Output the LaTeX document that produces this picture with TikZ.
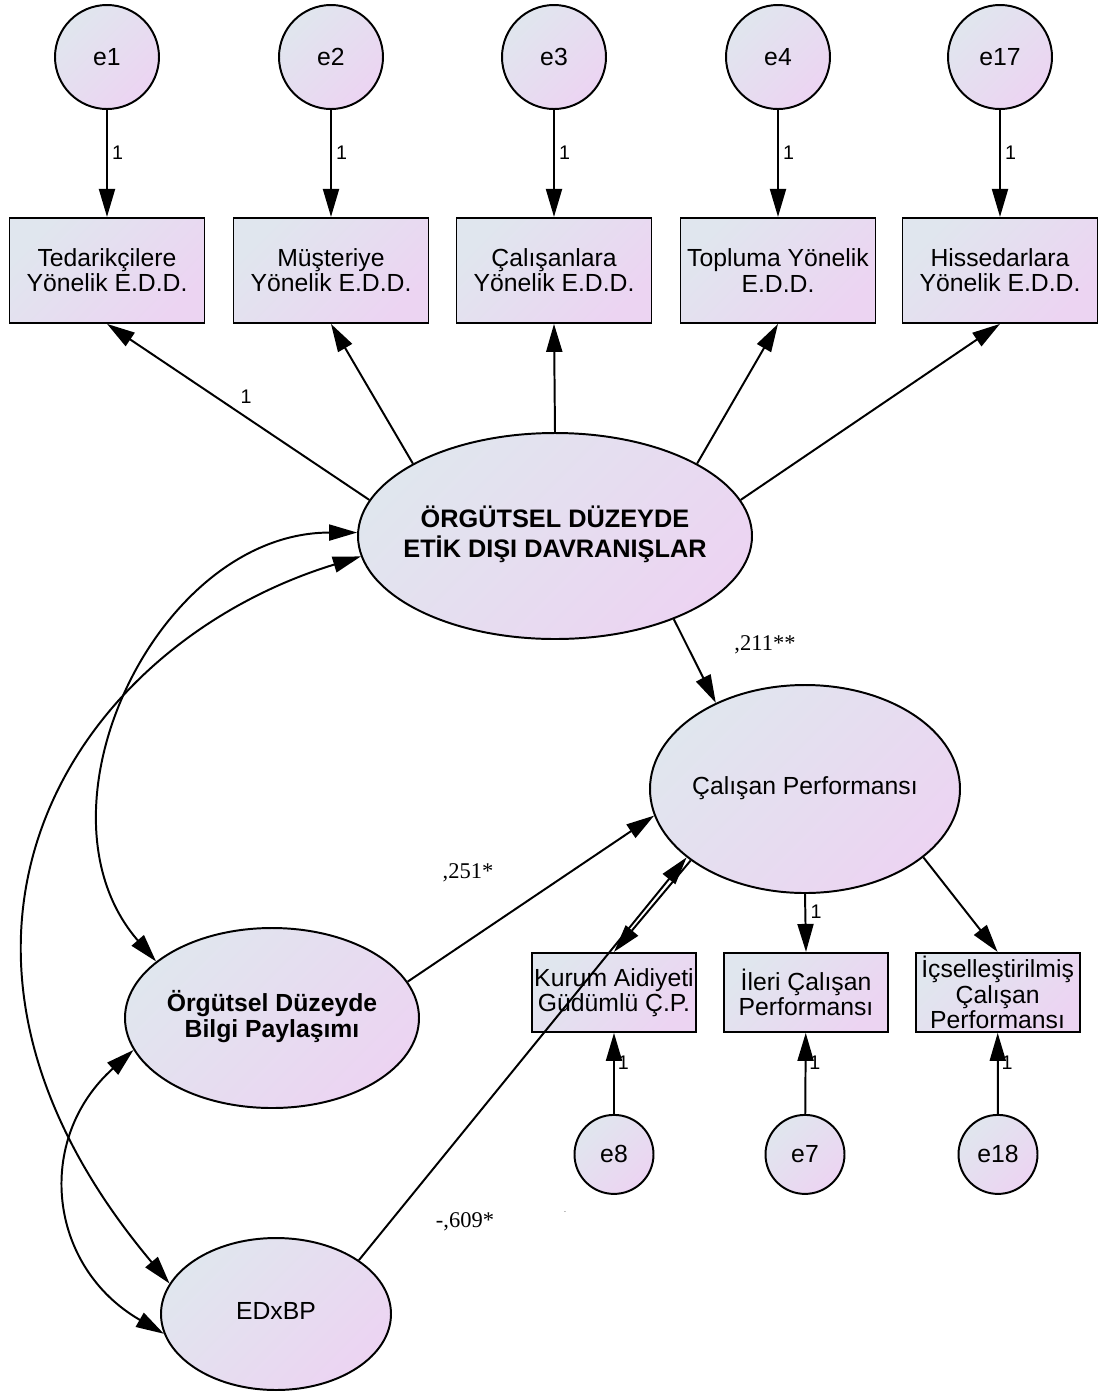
\documentclass[tikz,border=0pt]{standalone}
\usepackage{fontspec}
\setmainfont{Liberation Sans}
\newfontfamily\coeffont{Liberation Serif}
\usepackage{tikz}
\usetikzlibrary{positioning,arrows.meta,shapes.geometric}
\definecolor{AmosGray}{RGB}{224,230,238}
\definecolor{AmosLilac}{RGB}{236,212,242}
\newcommand{\mainsize}{\fontsize{17.6}{18}\selectfont}
\newcommand{\ctext}[1]{\makebox[0pt]{\begin{tabular}{@{}c@{}}#1\end{tabular}}}

\begin{document}
\begin{tikzpicture}[
  font=\mainsize,
  line width=1.4pt,
  >={Triangle[length=0.7cm,width=0.4cm]},
  errvar/.style={circle, draw, top color=AmosGray, bottom color=AmosLilac, shading angle=45, inner sep=0pt, minimum size=2.6cm},
  smallerr/.style={errvar, minimum size=1.975cm},
  indicator/.style={rectangle, draw, top color=AmosGray, bottom color=AmosLilac, shading angle=45, align=center, inner sep=1pt, minimum width=4.875cm, minimum height=2.625cm},
  subscale/.style={indicator, minimum width=4.1cm, minimum height=1.975cm},
  latent/.style={ellipse, draw, top color=AmosGray, bottom color=AmosLilac, shading angle=45, inner sep=0pt},
  reg/.style={->},
  cov/.style={<->},
  one/.style={font=\fontsize{14}{14}\selectfont, inner sep=3pt},
  coef/.style={font=\coeffont\fontsize{16}{18}\selectfont}
]
\useasboundingbox (0,0) rectangle (27.475,-34.8);

% Error terms of the E.D.D. indicators
\node[errvar] (e1) at (2.675,-1.425) {e1};
\node[errvar] (e2) at (8.275,-1.425) {e2};
\node[errvar] (e3) at (13.85,-1.425) {e3};
\node[errvar] (e4) at (19.45,-1.425) {e4};
\node[errvar] (e17) at (25.0,-1.425) {e17};

% E.D.D. indicators
\node[indicator] (t1) at (2.675,-6.76) {Tedarikçilere\\Yönelik E.D.D.};
\node[indicator] (t2) at (8.275,-6.76) {Müşteriye\\Yönelik E.D.D.};
\node[indicator] (t3) at (13.85,-6.76) {Çalışanlara\\Yönelik E.D.D.};
\node[indicator] (t4) at (19.45,-6.76) {Topluma Yönelik\\E.D.D.};
\node[indicator] (t5) at (25.0,-6.76) {Hissedarlara\\Yönelik E.D.D.};

% Latent variables
\node[latent, minimum width=9.85cm, minimum height=5.15cm] (ed) at (13.875,-13.4)
  {\fontsize{18}{20}\selectfont\bfseries\ctext{ÖRGÜTSEL DÜZEYDE\\ETİK DIŞI DAVRANIŞLAR}};
\node[latent, minimum width=7.75cm, minimum height=5.2cm] (perf) at (20.125,-19.725)
  {\ctext{Çalışan Performansı}};
\node[latent, minimum width=7.35cm, minimum height=4.5cm] (bp) at (6.8,-25.45)
  {\fontsize{17.6}{19}\selectfont\bfseries\ctext{Örgütsel Düzeyde\\Bilgi Paylaşımı}};
\node[latent, minimum width=5.75cm, minimum height=3.8cm] (edbp) at (6.9,-32.85)
  {\ctext{EDxBP}};

% Performance indicators and their error terms
\node[subscale] (k1) at (15.35,-24.81) {Kurum Aidiyeti\\Güdümlü Ç.P.};
\node[subscale] (k2) at (20.15,-24.81) {İleri Çalışan\\Performansı};
\node[subscale] (k3) at (24.94,-24.81) {İçselleştirilmiş\\Çalışan\\Performansı};
\node[smallerr] (e8) at (15.35,-28.86) {e8};
\node[smallerr] (e7) at (20.125,-28.86) {e7};
\node[smallerr] (e18) at (24.95,-28.86) {e18};

% Coefficients
\node[coef] (b211) at (19.125,-16.125) {,211**};
\node[coef] (b251) at (11.7,-21.825) {,251*};
\node[coef] (b609) at (11.625,-30.55) {-,609*};
\node[font=\tiny] (dot) at (14.125,-30.3) {.};

% Error terms -> indicators
\draw[reg] (e1) -- node[one, right, pos=0.4] {1} (t1);
\draw[reg] (e2) -- node[one, right, pos=0.4] {1} (t2);
\draw[reg] (e3) -- node[one, right, pos=0.4] {1} (t3);
\draw[reg] (e4) -- node[one, right, pos=0.4] {1} (t4);
\draw[reg] (e17) -- node[one, right, pos=0.4] {1} (t5);
\draw[reg] (e8) -- node[one, right, pos=0.63, inner sep=2pt] {1} (k1);
\draw[reg] (e7) -- node[one, right, pos=0.63, inner sep=2pt] {1} (k2);
\draw[reg] (e18) -- node[one, right, pos=0.63, inner sep=2pt] {1} (k3);

% Latent -> indicators
\draw[reg] (ed.169) -- node[one, pos=0.47, above=6pt] {1} (t1.south);
\draw[reg] (ed.153) -- (t2.south);
\draw[reg] (ed.north) -- (t3.south);
\draw[reg] (ed.27) -- (t4.south);
\draw[reg] (ed.11) -- (t5.south);
\draw[reg] (perf.212) -- (k1.north);
\draw[reg] (perf.south) -- node[one, right, pos=0.3] {1} (k2.north);
\draw[reg] (perf.-30) -- (k3.north);

% Structural paths
\draw[reg] (ed.-35) -- (perf.136);
\draw[reg] (bp.15) -- (perf.190);
\draw[reg] (edbp.33) -- (perf.210);

% Covariances
\draw[cov] (ed.179) to[out=180, in=131, looseness=1.08] (bp.154);
\draw[cov] (ed.186) to[out=197, in=130, out looseness=1.02, in looseness=1.53] (edbp.164);
\draw[cov] (bp.193) to[out=222, in=150, looseness=1.2] (edbp.190);
\end{tikzpicture}
\end{document}
